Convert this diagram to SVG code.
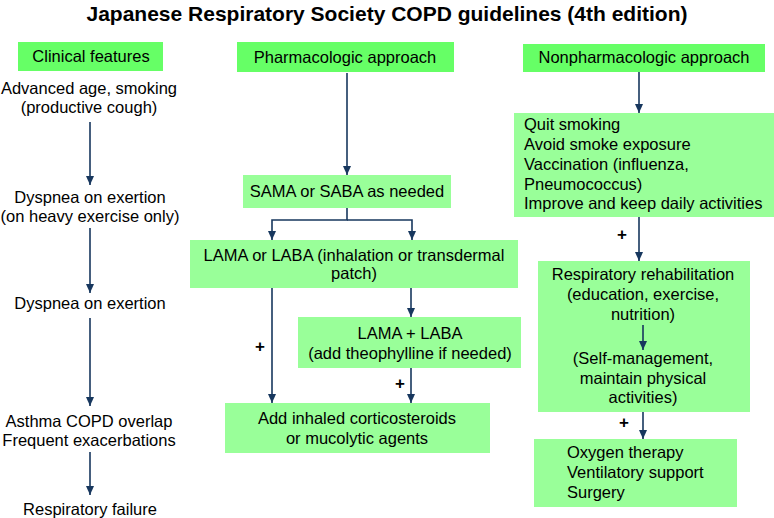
<svg xmlns="http://www.w3.org/2000/svg" width="774" height="518" viewBox="0 0 774 518">
<style>
text{font-family:"Liberation Sans",Arial,sans-serif;font-size:16.5px;fill:#000}
.t{font-size:21px;font-weight:bold}
.c{text-anchor:middle}
.h{fill:#66FF66}
.b{fill:#99FF99}
.ln{stroke:#17375E;stroke-width:1.6;fill:none}
.p{font-size:17px;font-weight:bold}
</style>
<defs>
<marker id="a" markerWidth="10" markerHeight="8" refX="9" refY="4" orient="auto" markerUnits="userSpaceOnUse">
<path d="M0,0 L9,4 L0,8 Z" fill="#17375E"/>
</marker>
</defs>
<rect width="774" height="518" fill="#fff"/>
<text class="t c" x="387" y="21">Japanese Respiratory Society COPD guidelines (4th edition)</text>

<g id="clinical-header"><rect class="h" x="18" y="42" width="145" height="29"/><text class="c" x="91" y="62">Clinical features</text></g>
<g id="c1"><text class="c" x="89" y="94">Advanced age, smoking</text><text class="c" x="89" y="113">(productive cough)</text></g>
<g id="c2"><text class="c" x="90" y="203">Dyspnea on exertion</text><text class="c" x="90" y="222">(on heavy exercise only)</text></g>
<g id="c3"><text class="c" x="90" y="309">Dyspnea on exertion</text></g>
<g id="c4"><text class="c" x="89" y="427">Asthma COPD overlap</text><text class="c" x="89" y="446">Frequent exacerbations</text></g>
<g id="c5"><text class="c" x="90" y="515">Respiratory failure</text></g>

<g id="pharm-header"><rect class="h" x="237" y="42" width="217" height="30"/><text class="c" x="345" y="63">Pharmacologic approach</text></g>
<g id="p1"><rect class="b" x="243" y="175" width="208" height="33"/><text class="c" x="347" y="197">SAMA or SABA as needed</text></g>
<g id="p2"><rect class="b" x="190" y="240" width="328" height="48"/><text class="c" x="354" y="261">LAMA or LABA (inhalation or transdermal</text><text class="c" x="354" y="279">patch)</text></g>
<g id="p3"><rect class="b" x="298" y="317" width="223" height="51"/><text class="c" x="410" y="339">LAMA + LABA</text><text class="c" x="410" y="359">(add theophylline if needed)</text></g>
<g id="p4"><rect class="b" x="225" y="403" width="265" height="50"/><text class="c" x="357" y="424">Add inhaled corticosteroids</text><text class="c" x="357" y="444">or mucolytic agents</text></g>

<g id="nonpharm-header"><rect class="h" x="523" y="44" width="242" height="28"/><text class="c" x="644" y="63">Nonpharmacologic approach</text></g>
<g id="n1"><rect class="b" x="514" y="113" width="260" height="104"/>
<text x="524" y="130">Quit smoking</text><text x="524" y="150">Avoid smoke exposure</text><text x="524" y="170">Vaccination (influenza,</text><text x="524" y="190">Pneumococcus)</text><text x="524" y="209">Improve and keep daily activities</text></g>
<g id="n2"><rect class="b" x="538" y="261" width="212" height="151"/>
<text class="c" x="643" y="280">Respiratory rehabilitation</text><text class="c" x="643" y="300">(education, exercise,</text><text class="c" x="643" y="320">nutrition)</text>
<text class="c" x="643" y="364">(Self-management,</text><text class="c" x="643" y="384">maintain physical</text><text class="c" x="643" y="403">activities)</text></g>
<g id="n3"><rect class="b" x="534" y="439" width="203" height="68"/>
<text x="567" y="458">Oxygen therapy</text><text x="567" y="478">Ventilatory support</text><text x="567" y="498">Surgery</text></g>

<g id="connectors">
<path class="ln" d="M90,122 V185" marker-end="url(#a)"/>
<path class="ln" d="M90,228 V293" marker-end="url(#a)"/>
<path class="ln" d="M90,318 V406" marker-end="url(#a)"/>
<path class="ln" d="M90,452 V495" marker-end="url(#a)"/>
<path class="ln" d="M347,73 V175" marker-end="url(#a)"/>
<path class="ln" d="M347,208 V220 H272 V240" marker-end="url(#a)"/>
<path class="ln" d="M347,220 H412 V240" marker-end="url(#a)"/>
<path class="ln" d="M272,288 V403" marker-end="url(#a)"/>
<path class="ln" d="M411,288 V317" marker-end="url(#a)"/>
<path class="ln" d="M411,368 V403" marker-end="url(#a)"/>
<path class="ln" d="M639,72 V113" marker-end="url(#a)"/>
<path class="ln" d="M639,217 V261" marker-end="url(#a)"/>
<path class="ln" d="M643,325 V350" marker-end="url(#a)"/>
<path class="ln" d="M643,412 V439" marker-end="url(#a)"/>
<text class="p c" x="260" y="352">+</text>
<text class="p c" x="400" y="389">+</text>
<text class="p c" x="622" y="240">+</text>
<text class="p c" x="624" y="428">+</text>
</g>
</svg>
